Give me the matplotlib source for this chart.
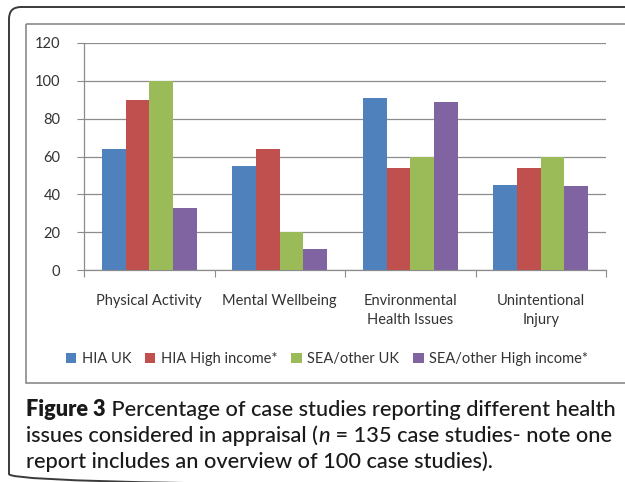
import matplotlib
matplotlib.use('Agg')
import matplotlib.pyplot as plt
from matplotlib.patches import FancyBboxPatch, Rectangle, Patch
import numpy as np

categories = ['Physical Activity', 'Mental Wellbeing', 'Environmental\nHealth Issues', 'Unintentional\nInjury']
series_names = ['HIA UK', 'HIA High income*', 'SEA/other UK', 'SEA/other High income*']
hia_uk = [64, 55, 91, 45]
hia_high_income = [90, 64, 54, 54]
sea_uk = [100, 20, 60, 60]
sea_high_income = [33, 11, 89, 44.5]
colors = ['#4F81BD', '#C0504D', '#9BBB59', '#8064A2']
yticks = [0, 20, 40, 60, 80, 100, 120]

W, H = 625, 482
fig = plt.figure(figsize=(W / 100, H / 100), dpi=100)
fig.patch.set_facecolor('white')

chart_font = 'Lato'
cap_font = 'Lato'
txt_col = '#333333'

# background overlay in pixel coordinates
bg = fig.add_axes([0, 0, 1, 1], zorder=-1)
bg.set_xlim(0, W)
bg.set_ylim(H, 0)
bg.axis('off')
bg.add_patch(FancyBboxPatch((9, 7), 700, 479, boxstyle='round,pad=0,rounding_size=12',
                            fill=False, edgecolor='#3a3a3a', lw=1.4))
bg.add_patch(Rectangle((26, 24), 700, 359, fill=False, edgecolor='#8a8a8a', lw=1.2))

# chart axes
ax = fig.add_axes([84 / W, 1 - 270 / H, (606 - 84) / W, (270 - 43) / H])
ax.patch.set_visible(False)
n = len(categories)
x = np.arange(n)
b = 1 / 5.5
for i, (vals, c, name) in enumerate(zip([hia_uk, hia_high_income, sea_uk, sea_high_income], colors, series_names)):
    ax.bar(x - 2 * b + (i + 0.5) * b, vals, width=b, color=c, label=name, zorder=3)
ax.set_xlim(-0.5, n - 0.5)
ax.set_ylim(0, 120)
ax.set_yticks(yticks)
ax.yaxis.grid(True, color='#8c8c8c', lw=0.9, zorder=0)
for s in ['top', 'right']:
    ax.spines[s].set_visible(False)
for s in ['left', 'bottom']:
    ax.spines[s].set_color('#8c8c8c')
    ax.spines[s].set_linewidth(0.9)
ax.set_xticks(np.arange(-0.5, n, 1.0))
ax.set_xticklabels([])
ax.set_xticks(x, minor=True)
ax.set_xticklabels(categories, minor=True, fontsize=10.5, family=chart_font, color=txt_col, linespacing=1.45)
ax.tick_params(axis='x', which='major', length=5, color='#8c8c8c', direction='out')
ax.tick_params(axis='x', which='minor', length=0, pad=17)
ax.tick_params(axis='y', length=5, color='#8c8c8c', pad=12)
for lab in ax.get_yticklabels():
    lab.set_family(chart_font)
    lab.set_fontsize(10.5)
    lab.set_color(txt_col)

handles = [Patch(facecolor=c, edgecolor='none') for c in colors]
leg = fig.legend(handles, series_names, loc='center', bbox_to_anchor=(327 / W, 1 - 359 / H),
                 ncol=4, frameon=False, handlelength=0.7, handleheight=0.7,
                 handletextpad=0.4, columnspacing=0.95,
                 prop={'family': chart_font, 'size': 10.5})
for t in leg.get_texts():
    t.set_color(txt_col)

# caption
renderer = fig.canvas.get_renderer()

def piece_width(text, fs, weight, style):
    t1 = bg.text(0, 0, 'X' + text + 'X', fontsize=fs, fontweight=weight, style=style, family=cap_font)
    t2 = bg.text(0, 0, 'XX', fontsize=fs, fontweight=weight, style=style, family=cap_font)
    w = t1.get_window_extent(renderer).width - t2.get_window_extent(renderer).width
    t1.remove(); t2.remove()
    return w

REG = 'medium'
lines = [
    [('Figure 3', 'heavy', 'normal'), (' Percentage of case studies reporting different health', REG, 'normal')],
    [('issues considered in appraisal (', REG, 'normal'), ('n', REG, 'italic'),
     (' = 135 case studies- note one', REG, 'normal')],
    [('report includes an overview of 100 case studies).', REG, 'normal')],
]
fs0 = 12
w0 = sum(piece_width(t, fs0, wt, st) for t, wt, st in lines[0])
fs = fs0 * 589 / w0
baselines = [416, 442, 468]
for line, yb in zip(lines, baselines):
    xx = 26
    for t, wt, st in line:
        bg.text(xx, yb, t, fontsize=fs, fontweight=wt, style=st, family=cap_font,
                va='baseline', ha='left', color='#1a1a1a')
        xx += piece_width(t, fs, wt, st)

fig.savefig('out.png', dpi=100, facecolor='white')
